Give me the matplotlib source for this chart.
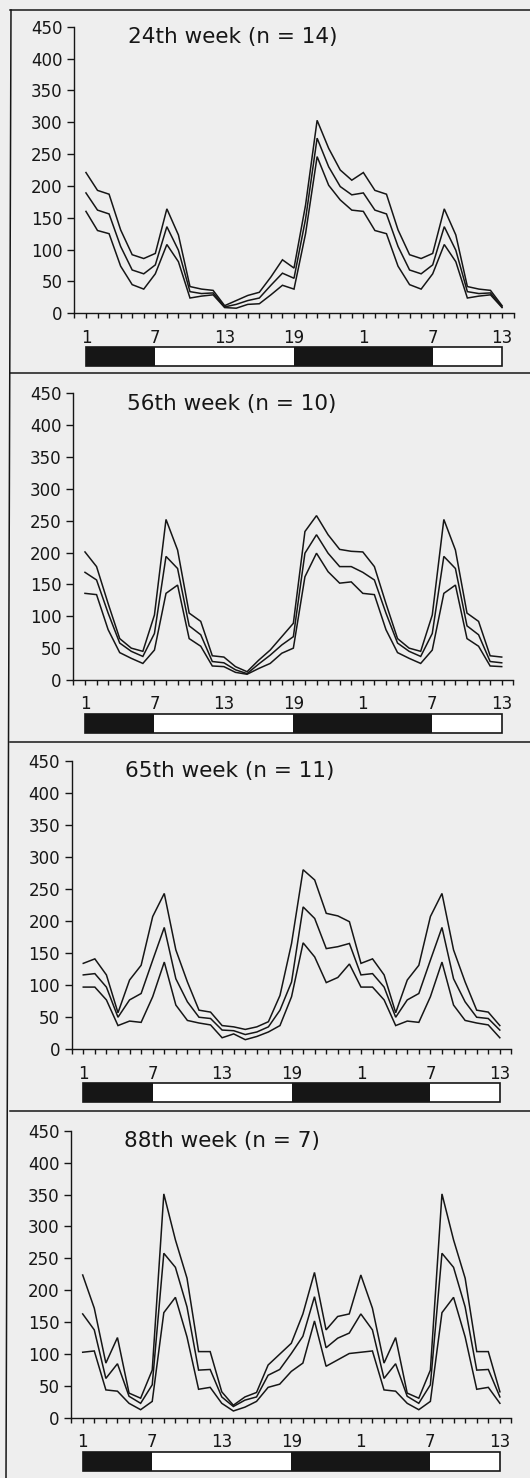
import numpy as np
import matplotlib
matplotlib.use("Agg")
import matplotlib.pyplot as plt
from matplotlib.lines import Line2D
from matplotlib.patches import Rectangle

# ---------------- data (24 hourly values, double-plotted to 37 points) ----------------
titles = ["24th week (n = 14)", "56th week (n = 10)", "65th week (n = 11)", "88th week (n = 7)"]
hour_labels = ["1", "7", "13", "19", "1", "7", "13"]

w24_upper = [221, 193, 187, 131, 92, 86, 94, 164, 123, 42, 38, 36, 12, 20, 28, 33, 57, 84, 71, 170, 303, 259, 225, 209]
w24_mean  = [189, 162, 156, 105, 68, 62, 76, 136, 99, 34, 31, 32, 10, 14, 20, 24, 44, 63, 55, 148, 275, 230, 199, 186]
w24_lower = [160, 130, 125, 74, 45, 38, 62, 108, 81, 24, 27, 29, 9, 8, 14, 15, 29, 44, 38, 125, 246, 201, 178, 162]

w56_upper = [201, 178, 120, 65, 50, 45, 102, 252, 204, 105, 92, 38, 36, 21, 13, 31, 47, 68, 89, 233, 258, 228, 205, 202]
w56_mean  = [169, 157, 105, 58, 45, 37, 73, 194, 175, 85, 71, 29, 27, 16, 10, 25, 39, 55, 68, 199, 228, 199, 178, 178]
w56_lower = [136, 134, 79, 43, 34, 26, 47, 136, 149, 65, 53, 22, 21, 12, 9, 18, 26, 42, 50, 162, 199, 170, 152, 154]

w65_upper = [134, 141, 116, 57, 108, 131, 207, 243, 155, 105, 61, 58, 37, 35, 31, 35, 43, 84, 165, 280, 264, 212, 208, 199]
w65_mean  = [116, 118, 97, 50, 77, 87, 139, 190, 110, 74, 50, 48, 30, 29, 23, 27, 35, 61, 105, 222, 204, 157, 160, 165]
w65_lower = [97, 97, 77, 37, 44, 42, 82, 136, 69, 45, 41, 38, 18, 24, 15, 20, 27, 37, 82, 166, 144, 104, 112, 133]

w88_upper = [224, 172, 86, 126, 39, 31, 75, 351, 279, 219, 104, 104, 41, 20, 33, 40, 83, 100, 117, 163, 228, 138, 159, 163]
w88_mean  = [163, 138, 62, 85, 34, 23, 52, 258, 236, 174, 75, 76, 33, 18, 28, 33, 67, 76, 101, 128, 190, 110, 125, 133]
w88_lower = [103, 105, 44, 42, 23, 13, 26, 165, 189, 127, 45, 48, 23, 11, 17, 26, 48, 53, 73, 86, 152, 81, 91, 101]

# light/dark schedule (start hour, duration) on the double-plot axis
dark_periods = [(1, 6), (19, 12)]
light_periods = [(7, 12), (31, 6)]

series = [
    (w24_upper, w24_mean, w24_lower),
    (w56_upper, w56_mean, w56_lower),
    (w65_upper, w65_mean, w65_lower),
    (w88_upper, w88_mean, w88_lower),
]

# ---------------- layout (pixel geometry) ----------------
W, H = 530, 1478
BG = "#eeeeee"
INK = "#161616"
plt.rcParams["font.family"] = ["DejaVu Sans"]

fig = plt.figure(figsize=(W / 100, H / 100), dpi=100, facecolor=BG)

# (left px, right px, zero-line px, 450-line px)
geom = [
    (74.4, 513.6, 313.3, 26.7),
    (73.4, 513.3, 680.0, 393.3),
    (71.7, 511.4, 1049.3, 760.7),
    (71.1, 511.5, 1418.0, 1130.7),
]

hours = np.arange(1, 38)

for i, ((L, R, B, T), (up, mn, lo)) in enumerate(zip(geom, series)):
    ax = fig.add_axes([L / W, 1 - B / H, (R - L) / W, (B - T) / H])
    ax.set_facecolor("none")
    for s in (up, mn, lo):
        v = np.concatenate([np.asarray(s, float), np.asarray(s[:13], float)])
        ax.plot(hours, v, color=INK, lw=1.1, solid_joinstyle="miter")
    ax.set_xlim(0, 38)
    ax.set_ylim(0, 450)
    ax.spines["top"].set_visible(False)
    ax.spines["right"].set_visible(False)
    for sp in ("left", "bottom"):
        ax.spines[sp].set_color(INK)
        ax.spines[sp].set_linewidth(1.0)
    ax.set_yticks(np.arange(0, 451, 50))
    ax.set_xticks(np.arange(0, 39, 1), minor=True)
    ax.set_xticks([1, 7, 13, 19, 25, 31, 37])
    ax.set_xticklabels(hour_labels)
    ax.tick_params(axis="y", direction="out", length=5, width=1.0, color=INK,
                   labelsize=12, pad=3.5, labelcolor=INK)
    ax.tick_params(axis="x", which="both", direction="out", length=3.5, width=1.0,
                   color=INK, labelsize=12, pad=7.5, labelcolor=INK)
    ax.text(4.6, 424, titles[i], fontsize=15.5, color=INK, ha="left", va="baseline")

    # light/dark bar
    top = B + 34
    hb = 19
    bx = fig.add_axes([L / W, 1 - (top + hb) / H, (R - L) / W, hb / H])
    bx.set_xlim(0, 38)
    bx.set_ylim(0, 1)
    bx.axis("off")
    bx.broken_barh(dark_periods, (0, 1), facecolors=INK, edgecolors="none")
    bx.broken_barh(light_periods, (0, 1), facecolors="white", edgecolors="none")
    bx.add_patch(Rectangle((1, 0), 36, 1, fill=False, edgecolor=INK, lw=1.2, clip_on=False))

# panel frame lines
for y in (10, 373, 742, 1111):
    fig.add_artist(Line2D([10 / W, 1.0], [1 - y / H, 1 - y / H], transform=fig.transFigure,
                          color=INK, lw=1.1))
fig.add_artist(Line2D([11 / W, 6 / W], [1 - 10 / H, 0.0], transform=fig.transFigure,
                      color=INK, lw=1.1))

fig.savefig("out.png", dpi=100, facecolor=BG)
